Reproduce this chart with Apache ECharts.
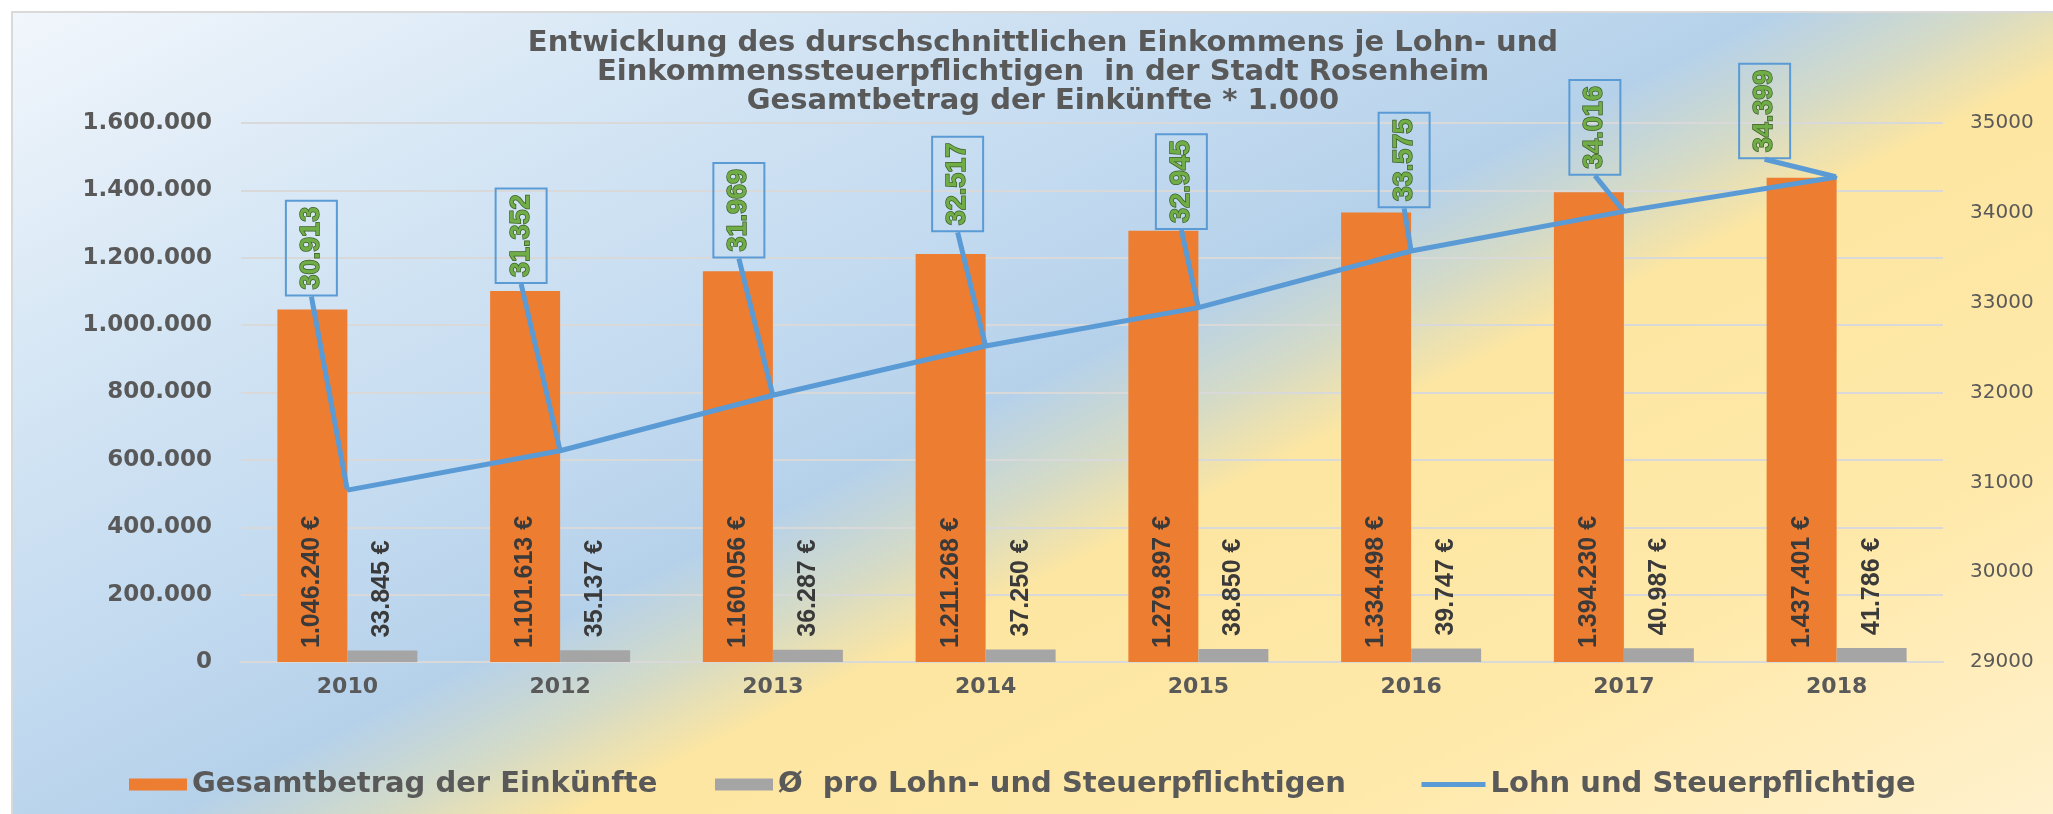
<!DOCTYPE html>
<html>
<head>
<meta charset="utf-8">
<title>Einkommen Rosenheim</title>
<script src="https://cdn.jsdelivr.net/npm/echarts@6/dist/echarts.min.js"></script>
<style>
    html, body { margin: 0; padding: 0; background: #ffffff; }
    #chart { width: 2053px; height: 814px; }
</style>
</head>
<body>
<div id="chart"></div>
<script>
// Jahre
var jahre = ['2010', '2012', '2013', '2014', '2015', '2016', '2017', '2018'];

// Gesamtbetrag der Einkünfte (* 1.000)
var gesamtbetrag = [1046240, 1101613, 1160056, 1211268, 1279897, 1334498, 1394230, 1437401];

// Ø pro Lohn- und Steuerpflichtigen
var proPflichtigen = [33845, 35137, 36287, 37250, 38850, 39747, 40987, 41786];

// Anzahl Lohn- und Steuerpflichtige (rechte Achse)
var pflichtige = [30913, 31352, 31969, 32517, 32945, 33575, 34016, 34399];

// Achsen: [min, max, intervall]
var achseLinks = [0, 1600000, 200000];
var achseRechts = [29000, 35000, 1000];

// verschobene Beschriftungen der Linie (wie im Excel von Hand gezogen)
var labelVersatz = [[-36, -242], [-39, -215], [-34, -185], [-28, -162], [-17, -126], [-7, -91], [-29, -84], [-72, -66]];

var schrift = 'DejaVu Sans';
var textFarbe = '#595959';

function punkte(v) {
    return String(v).replace(/\B(?=(\d{3})+(?!\d))/g, '.');
}

var chartDom = document.getElementById('chart');
var myChart = echarts.init(chartDom, null, { renderer: 'canvas' });

// Verlauf hellblau -> blau -> gelb, schräg von oben links nach unten rechts
var hintergrund = new echarts.graphic.LinearGradient(0, 0, 736, 1471, [
    { offset: 0, color: '#f3f7fc' },
    { offset: 0.2, color: '#d7e7f5' },
    { offset: 0.4, color: '#c1d9ef' },
    { offset: 0.49, color: '#b5d1ea' },
    { offset: 0.545, color: '#d3dac8' },
    { offset: 0.6, color: '#fde6a1' },
    { offset: 0.8, color: '#ffe9aa' },
    { offset: 1, color: '#fff1cd' }
], true);

var legendeText = {
    fontFamily: schrift,
    fontSize: 29,
    fontWeight: 'bold',
    color: textFarbe
};

var option = {
    backgroundColor: '#ffffff',
    animation: false,
    graphic: [{
        type: 'rect',
        z: -10,
        silent: true,
        shape: { x: 12, y: 12, width: 2050, height: 810 },
        style: { fill: hintergrund, stroke: '#d9d9d9', lineWidth: 2 }
    }],
    title: {
        text: 'Entwicklung des durschschnittlichen Einkommens je Lohn- und\nEinkommenssteuerpflichtigen  in der Stadt Rosenheim\nGesamtbetrag der Einkünfte * 1.000',
        left: 1038,
        top: 24,
        textAlign: 'center',
        textStyle: {
            fontFamily: schrift,
            fontSize: 29,
            fontWeight: 'bold',
            color: textFarbe,
            lineHeight: 29
        }
    },
    legend: [{
        left: 129,
        top: 770,
        padding: 0,
        itemWidth: 58,
        itemHeight: 12,
        textStyle: legendeText,
        data: [{ name: 'Gesamtbetrag der Einkünfte', icon: 'rect' }]
    }, {
        left: 715,
        top: 770,
        padding: 0,
        itemWidth: 58,
        itemHeight: 12,
        textStyle: legendeText,
        data: [{ name: 'Ø  pro Lohn- und Steuerpflichtigen', icon: 'rect' }]
    }, {
        left: 1419,
        top: 770,
        padding: 0,
        itemWidth: 64,
        itemHeight: 12,
        textStyle: legendeText,
        lineStyle: { width: 5 },
        data: [{ name: 'Lohn und Steuerpflichtige', itemStyle: { opacity: 0 } }]
    }],
    grid: {
        left: 241,
        right: 110,
        top: 123,
        bottom: 152
    },
    xAxis: {
        type: 'category',
        data: jahre,
        axisTick: { show: false },
        axisLine: { lineStyle: { color: '#d9d9d9', width: 2 } },
        axisLabel: {
            margin: 14,
            fontFamily: schrift,
            fontSize: 22,
            fontWeight: 'bold',
            color: textFarbe
        }
    },
    yAxis: [{
        type: 'value',
        min: achseLinks[0],
        max: achseLinks[1],
        interval: achseLinks[2],
        axisLine: { show: false },
        axisTick: { show: false },
        splitLine: { lineStyle: { color: '#d9d9d9', width: 2 } },
        axisLabel: {
            margin: 29,
            fontFamily: schrift,
            fontSize: 23,
            fontWeight: 'bold',
            color: textFarbe,
            formatter: function (v) { return punkte(v); }
        }
    }, {
        type: 'value',
        position: 'right',
        min: achseRechts[0],
        max: achseRechts[1],
        interval: achseRechts[2],
        axisLine: { show: false },
        axisTick: { show: false },
        splitLine: { show: false },
        axisLabel: {
            margin: 27,
            fontFamily: schrift,
            fontSize: 20,
            color: textFarbe,
            formatter: function (v) { return String(v); }
        }
    }],
    series: [{
        name: 'Gesamtbetrag der Einkünfte',
        type: 'bar',
        data: gesamtbetrag,
        barWidth: 70,
        barGap: '0%',
        itemStyle: { color: '#ed7d31' },
        label: {
            show: true,
            position: 'insideBottom',
            distance: 14,
            rotate: 90,
            align: 'left',
            verticalAlign: 'middle',
            fontFamily: 'Liberation Sans',
            fontSize: 25,
            fontWeight: 'bold',
            color: '#3a3a3a',
            formatter: function (p) { return punkte(p.value) + ' €'; }
        }
    }, {
        name: 'Ø  pro Lohn- und Steuerpflichtigen',
        type: 'bar',
        data: proPflichtigen,
        barWidth: 70,
        itemStyle: { color: '#a5a5a5' },
        label: {
            show: true,
            position: 'top',
            distance: 13,
            rotate: 90,
            align: 'left',
            verticalAlign: 'middle',
            fontFamily: 'Liberation Sans',
            fontSize: 25,
            fontWeight: 'bold',
            color: '#3a3a3a',
            formatter: function (p) { return punkte(p.value) + ' €'; }
        }
    }, {
        name: 'Lohn und Steuerpflichtige',
        type: 'line',
        yAxisIndex: 1,
        data: pflichtige,
        symbol: 'circle',
        symbolSize: 2,
        itemStyle: { color: '#5b9bd5' },
        lineStyle: { color: '#5b9bd5', width: 5 },
        label: {
            show: true,
            rotate: 90,
            fontFamily: 'Liberation Sans',
            fontSize: 27,
            fontWeight: 'bold',
            color: '#70ad47',
            textBorderColor: '#3b5e26',
            textBorderWidth: 1.5,
            borderColor: '#5b9bd5',
            borderWidth: 2,
            padding: [13, 6, 11, 6],
            formatter: function (p) { return punkte(p.value); }
        },
        labelLine: {
            show: true,
            lineStyle: { color: '#5b9bd5', width: 5 }
        },
        labelLayout: function (params) {
            var s = labelVersatz[params.dataIndex];
            return {
                x: params.rect.x + params.rect.width / 2 + s[0],
                y: params.rect.y + params.rect.height / 2 + s[1],
                align: 'center',
                verticalAlign: 'middle'
            };
        }
    }]
};

myChart.setOption(option);
</script>
</body>
</html>
